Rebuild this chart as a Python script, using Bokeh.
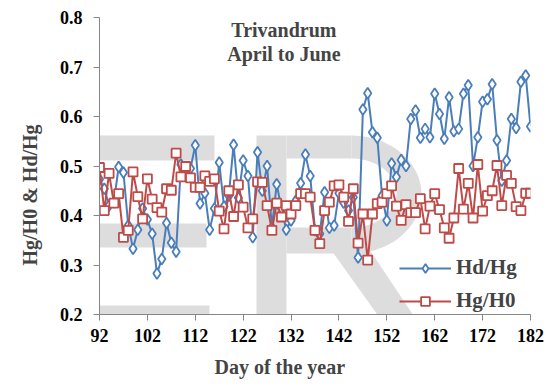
import numpy as np
from bokeh.plotting import figure
from bokeh.models import (Range1d, FixedTicker, NumeralTickFormatter, Legend,
                          LegendItem, Label, PolyAnnotation, Title)
from bokeh.embed import file_html
from bokeh.resources import INLINE

# ---------------- data ----------------
days = list(range(92, 183))

hd_hg = [0.473, 0.454, 0.420, 0.427, 0.498, 0.487, 0.380, 0.333, 0.371, 0.414,
         0.392, 0.363, 0.283, 0.312, 0.385, 0.345, 0.327, 0.503, 0.497, 0.495,
         0.542, 0.424, 0.445, 0.371, 0.414, 0.507, 0.418, 0.440, 0.543, 0.436,
         0.511, 0.480, 0.356, 0.528, 0.450, 0.500, 0.376, 0.463, 0.414, 0.371,
         0.390, 0.430, 0.465, 0.523, 0.480, 0.370, 0.363, 0.447, 0.375, 0.380,
         0.445, 0.426, 0.410, 0.437, 0.315, 0.614, 0.647, 0.568, 0.557, 0.440,
         0.390, 0.505, 0.478, 0.512, 0.500, 0.595, 0.612, 0.557, 0.575, 0.558,
         0.646, 0.605, 0.555, 0.639, 0.570, 0.575, 0.646, 0.663, 0.500, 0.558,
         0.630, 0.635, 0.665, 0.552, 0.470, 0.511, 0.595, 0.577, 0.670, 0.683,
         0.580]

hg_h0 = [0.497, 0.410, 0.485, 0.425, 0.444, 0.356, 0.370, 0.488, 0.438, 0.393,
         0.474, 0.433, 0.416, 0.407, 0.454, 0.451, 0.526, 0.478, 0.499, 0.476,
         0.457, 0.457, 0.480, 0.469, 0.474, 0.409, 0.373, 0.450, 0.398, 0.462,
         0.417, 0.375, 0.393, 0.468, 0.467, 0.420, 0.370, 0.425, 0.397, 0.420,
         0.403, 0.420, 0.444, 0.444, 0.437, 0.370, 0.343, 0.410, 0.427, 0.460,
         0.462, 0.437, 0.388, 0.454, 0.344, 0.403, 0.310, 0.403, 0.424, 0.427,
         0.444, 0.460, 0.419, 0.390, 0.422, 0.406, 0.406, 0.434, 0.373, 0.419,
         0.444, 0.412, 0.375, 0.354, 0.395, 0.495, 0.413, 0.465, 0.395, 0.503,
         0.409, 0.440, 0.450, 0.501, 0.420, 0.481, 0.465, 0.418, 0.410, 0.445,
         0.445]

x_ticks = [92, 102, 112, 122, 132, 142, 152, 162, 172, 182]
y_ticks = [0.2, 0.3, 0.4, 0.5, 0.6, 0.7, 0.8]

series_names = ["Hd/Hg", "Hg/H0"]
title_lines = ["Trivandrum", "April to June"]
x_title = "Day of the year"
y_title = "Hg/H0 & Hd/Hg"

BLUE = "#4A7EBB"
RED = "#BE4B48"
FONT = "Liberation Serif"
WM = "#dddddd"

# ---------------- figure ----------------
p = figure(width=546, height=387, output_backend="svg", toolbar_location=None,
           x_range=Range1d(92, 182), y_range=Range1d(0.2, 0.8),
           min_border_left=98, min_border_right=16, min_border_top=17,
           min_border_bottom=73)
p.outline_line_color = None
p.grid.visible = False
p.background_fill_color = "white"
p.border_fill_color = "white"

# background watermark decoration (parts inside the plot area), in screen
# pixels relative to the frame
FL, FB = 98, 314  # frame left / bottom in page pixels

def wm_poly(pts):
    xs = [a - FL for a, b in pts]
    ys = [FB - b for a, b in pts]
    p.add_layout(PolyAnnotation(xs=xs, ys=ys, xs_units="screen", ys_units="screen",
                                fill_color=WM, fill_alpha=1.0,
                                line_color=None, level="underlay"))

def rect(x0, x1, y0, y1):
    wm_poly([(x0, y0), (x1, y0), (x1, y1), (x0, y1)])

# E
rect(63, 213, 135, 160)
rect(63, 205, 223, 247)
rect(63, 208, 305, 342)
# R
rect(255, 285, 135, 342)
rect(285, 350, 135, 158)
rect(285, 350, 227, 253)
t = np.linspace(-np.pi / 2, np.pi / 2, 40)
outer = [(350 + 70 * np.cos(a), 194 + 59 * np.sin(a)) for a in t]
inner = [(350 + 45 * np.cos(a), 192.5 + 34.5 * np.sin(a)) for a in t[::-1]]
wm_poly(outer + inner)
wm_poly([(330, 250), (362, 240), (432, 345), (398, 345)])

# ---------------- series ----------------
r1l = p.line(days, hd_hg, line_color=BLUE, line_width=2)
r1m = p.scatter(days, hd_hg, marker="diamond", size=11, line_color=BLUE,
                fill_color="white", line_width=1.8)
r2l = p.line(days, hg_h0, line_color=RED, line_width=2)
r2m = p.scatter(days, hg_h0, marker="square", size=9, line_color=RED,
                fill_color="white", line_width=1.8)

# ---------------- axes ----------------
for ax in (p.xaxis, p.yaxis):
    ax.axis_line_color = "#868686"
    ax.major_tick_line_color = "#868686"
    ax.minor_tick_line_color = None
    ax.major_tick_in = 0
    ax.major_tick_out = 6
    ax.major_label_text_font = FONT
    ax.major_label_text_font_style = "bold"
    ax.major_label_text_font_size = "18px"
    ax.major_label_text_color = "black"

p.xaxis.ticker = FixedTicker(ticks=x_ticks)
p.yaxis.ticker = FixedTicker(ticks=y_ticks)
p.yaxis.formatter = NumeralTickFormatter(format="0.0")
p.xaxis.major_label_standoff = 8
p.xaxis.major_label_text_line_height = 1.0
p.yaxis.major_label_standoff = 11

# axis titles
p.add_layout(Title(text=x_title, text_font=FONT, text_font_style="bold",
                   text_font_size="20px", align="left", offset=115,
                   standoff=19, text_line_height=1.0), "below")
p.add_layout(Title(text=y_title, text_font=FONT, text_font_style="bold",
                   text_font_size="20px", align="left", offset=49,
                   standoff=32, text_line_height=1.0), "left")

# chart title inside the plot
for line_text, yy in zip(title_lines, [0.774, 0.727]):
    p.add_layout(Label(x=130.5, y=yy, text=line_text, text_font=FONT,
                       text_font_style="bold", text_font_size="20px",
                       text_align="center", text_baseline="middle"))

# ---------------- legend ----------------
legend = Legend(items=[LegendItem(label=series_names[0], renderers=[r1l, r1m]),
                       LegendItem(label=series_names[1], renderers=[r2l, r2m])],
                location=(300, 1))
legend.background_fill_alpha = 0
legend.border_line_alpha = 0
legend.label_text_font = FONT
legend.label_text_font_style = "bold"
legend.label_text_font_size = "21px"
legend.glyph_width = 52
legend.glyph_height = 22
legend.label_height = 22
legend.spacing = 8
legend.padding = 0
legend.margin = 0
legend.label_standoff = 5
p.add_layout(legend)

open("out.html", "w").write(file_html(p, INLINE))
